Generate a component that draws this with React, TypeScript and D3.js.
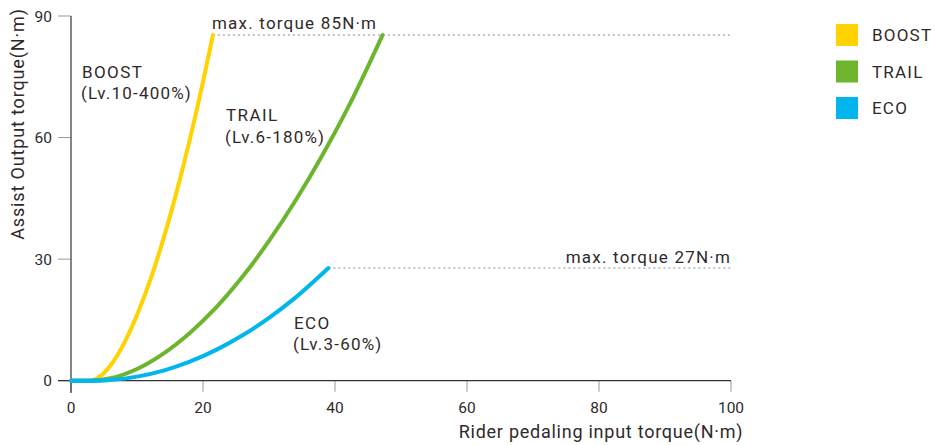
import React from "react";
import * as d3 from "d3";

const xTicks = [0, 20, 40, 60, 80, 100];
const yTicks = [0, 30, 60, 90];

const boostX = [0, 3, 4, 5, 6, 8, 10, 12, 14, 16, 18, 20, 21.5];
const boostY = [0, 0, 0.6, 1.9, 3.8, 9.1, 16.2, 24.8, 35, 46.6, 59.5, 73.7, 85.3];

const trailX = [0, 3, 6, 10, 14, 18, 22, 26, 30, 34, 38, 42, 47.2];
const trailY = [0, 0, 0.6, 2.9, 6.7, 11.8, 18.1, 25.7, 34.5, 44.4, 55.4, 67.5, 85.3];

const ecoX = [0, 3, 6, 10, 14, 18, 22, 26, 30, 34, 39];
const ecoY = [0, 0, 0.2, 1.0, 2.5, 4.7, 7.6, 11.2, 15.5, 20.5, 27.8];

const seriesNames = ["BOOST", "TRAIL", "ECO"];
const seriesColors = ["#FFD200", "#6CB52D", "#00B6EC"];
const seriesLevels = ["(Lv.10-400%)", "(Lv.6-180%)", "(Lv.3-60%)"];
const maxLabels = ["max. torque 85N·m", "max. torque 27N·m"];

const W = 935;
const H = 445;
const FONT = "Roboto, 'DejaVu Sans', sans-serif";
const TXT = "#2f2a2a";

export default function App() {
  const x = d3.scaleLinear().domain([0, 100]).range([71, 731]);
  const y = d3.scaleLinear().domain([0, 90]).range([380.7, 16]);

  const make = (xs: number[], ys: number[]) =>
    d3
      .line<number>()
      .x((_, i) => x(xs[i]))
      .y((_, i) => y(ys[i]))
      .curve(d3.curveMonotoneX)(xs.map((v) => v)) as string;

  const series = [
    { xs: boostX, ys: boostY },
    { xs: trailX, ys: trailY },
    { xs: ecoX, ys: ecoY },
  ];

  const boostEnd = [boostX[boostX.length - 1], boostY[boostY.length - 1]];
  const ecoEnd = [ecoX[ecoX.length - 1], ecoY[ecoY.length - 1]];

  return (
    <svg
      width={W}
      height={H}
      style={{ position: "absolute", left: 0, top: 0, background: "#fff" }}
      fontFamily={FONT}
    >
      <line
        x1={x(boostEnd[0])}
        x2={x(100)}
        y1={y(boostEnd[1])}
        y2={y(boostEnd[1])}
        stroke="#8a8a8a"
        strokeWidth={1}
        strokeDasharray="2,3"
      />
      <line
        x1={x(ecoEnd[0])}
        x2={x(100)}
        y1={y(ecoEnd[1])}
        y2={y(ecoEnd[1])}
        stroke="#8a8a8a"
        strokeWidth={1}
        strokeDasharray="2,3"
      />

      {yTicks.map((t) => (
        <line key={"yt" + t} x1={58} x2={x(0)} y1={y(t)} y2={y(t)} stroke="#999" strokeWidth={1} />
      ))}
      {xTicks.map((t) => (
        <line key={"xt" + t} x1={x(t)} x2={x(t)} y1={y(0)} y2={y(0) + 11} stroke="#999" strokeWidth={1} />
      ))}
      {yTicks.map((t) => (
        <text key={"yl" + t} x={52} y={y(t) + 5.5} textAnchor="end" fontSize={15.5} fill={TXT}>
          {t}
        </text>
      ))}
      {xTicks.map((t) => (
        <text key={"xl" + t} x={x(t)} y={413} textAnchor="middle" fontSize={15.5} fill={TXT}>
          {t}
        </text>
      ))}

      <line x1={x(0)} x2={x(0)} y1={y(90)} y2={393} stroke="#333" strokeWidth={1.2} />
      <line x1={58} x2={x(100)} y1={y(0)} y2={y(0)} stroke="#333" strokeWidth={1.2} />

      {series.map((s, i) => (
        <path
          key={"s" + i}
          d={make(s.xs, s.ys)}
          fill="none"
          stroke={seriesColors[i]}
          strokeWidth={4}
          strokeLinecap="round"
        />
      ))}
      <path
        d={make(ecoX.slice(0, 3), ecoY.slice(0, 3))}
        fill="none"
        stroke={seriesColors[2]}
        strokeWidth={4}
      />

      <text x={212} y={29} fontSize={17} fill={TXT} letterSpacing={1.2}>
        {maxLabels[0]}
      </text>
      <text x={731} y={263} textAnchor="end" fontSize={17} fill={TXT} letterSpacing={1.2}>
        {maxLabels[1]}
      </text>

      <text x={82} y={78} fontSize={17} fill={TXT} letterSpacing={1.4}>
        {seriesNames[0]}
      </text>
      <text x={81} y={99} fontSize={17} fill={TXT} letterSpacing={1.2}>
        {seriesLevels[0]}
      </text>
      <text x={226} y={121} fontSize={17} fill={TXT} letterSpacing={1.4}>
        {seriesNames[1]}
      </text>
      <text x={225} y={143} fontSize={17} fill={TXT} letterSpacing={1.2}>
        {seriesLevels[1]}
      </text>
      <text x={294} y={329} fontSize={17} fill={TXT} letterSpacing={1.4}>
        {seriesNames[2]}
      </text>
      <text x={293} y={350} fontSize={17} fill={TXT} letterSpacing={1.2}>
        {seriesLevels[2]}
      </text>

      <text
        transform={`translate(24,${124}) rotate(-90)`}
        textAnchor="middle"
        fontSize={18}
        fill={TXT}
        letterSpacing={0.85}
      >
        Assist Output torque(N·m)
      </text>
      <text x={601} y={438} textAnchor="middle" fontSize={18} fill={TXT} letterSpacing={0.75}>
        Rider pedaling input torque(N·m)
      </text>

      {seriesNames.map((n, i) => (
        <g key={"lg" + i} transform={`translate(836,${24 + i * 36.5})`}>
          <rect width={22} height={22} fill={seriesColors[i]} />
          <text x={36} y={17} fontSize={17} fill={TXT} letterSpacing={1.2}>
            {n}
          </text>
        </g>
      ))}
    </svg>
  );
}
